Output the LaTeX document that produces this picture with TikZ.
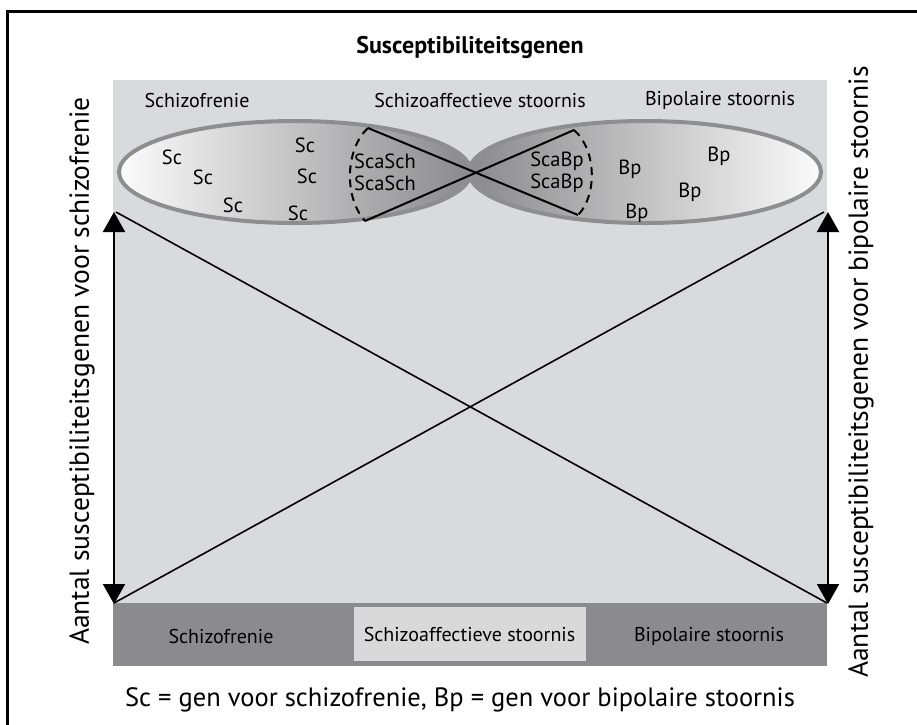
\documentclass[tikz,border=0pt]{standalone}
\usepackage{fontspec}
\setmainfont{PT Sans}
\usetikzlibrary{shapes.geometric,arrows.meta}
\definecolor{bglight}{HTML}{D9DADC}
\definecolor{bardark}{HTML}{8B8B8D}
\definecolor{boxlight}{HTML}{D9D9DA}
\definecolor{ellline}{HTML}{8E8E90}
\definecolor{ellend}{HTML}{8A8A8C}
\definecolor{ellstart}{HTML}{FBFBFB}
\tikzset{
  lbl/.style={inner sep=0pt, font=\fontsize{20}{24}\selectfont},
  gene/.style={inner sep=0pt, font=\fontsize{20.5}{24}\selectfont},
  side/.style={inner sep=0pt, rotate=90, font=\fontsize{27.5}{32}\selectfont},
  ellbox/.style={ellipse, draw=ellline, line width=4pt, minimum width=352pt, minimum height=102pt, inner sep=0pt},
  xline/.style={line width=1.6pt},
  crossline/.style={line width=2pt},
  dashcurve/.style={line width=2pt, dash pattern=on 8pt off 6pt},
  dblarrow/.style={line width=2pt, {Triangle[width=22pt,length=20pt]}-{Triangle[width=22pt,length=20pt]}}
}
\begin{document}
\begin{tikzpicture}[x=1pt,y=-1pt]
\useasboundingbox (0,0) rectangle (917,724);
\clip (0,0) rectangle (917,724);
\fill[white] (0,0) rectangle (917,724);
% frame
\draw[line width=3pt] (7,11) rectangle (940,760);
% backgrounds
\fill[bglight] (113,80) rectangle (827,603);
\fill[bardark] (113,603) rectangle (827,666);
\node[fill=boxlight, minimum width=232pt, minimum height=54pt, inner sep=0pt] (midbox) at (469.5,634) {};
% title
\node[inner sep=0pt, font=\fontsize{24}{28}\selectfont\bfseries] (title) at (470,47) {Susceptibiliteitsgenen};
% top labels
\node[lbl] (tschiz) at (197,100) {Schizofrenie};
\node[lbl] (tsca) at (480,100) {Schizoaffectieve stoornis};
\node[lbl] (tbip) at (720,100) {Bipolaire stoornis};
% ellipses
\node[ellbox, left color=ellstart, right color=ellend] (ellL) at (295,172) {};
\node[ellbox, left color=ellend, right color=ellstart] (ellR) at (645,172) {};
% crossing lines and dashed arcs
\coordinate (lt) at (368,128);
\coordinate (lb) at (365,221);
\coordinate (rt) at (574,130);
\coordinate (rb) at (578,215);
\draw[crossline] (lt) -- (rb);
\draw[crossline] (lb) -- (rt);
\draw[dashcurve] (lt) .. controls (346,148) and (343,196) .. (lb);
\draw[dashcurve] (rt) .. controls (597,150) and (597,196) .. (rb);
% genes
\node[gene] (sc1) at (172,157) {Sc};
\node[gene] (sc2) at (203,177) {Sc};
\node[gene] (sc3) at (233,205) {Sc};
\node[gene] (sc4) at (305,145) {Sc};
\node[gene] (sc5) at (307,176) {Sc};
\node[gene] (sc6) at (298,213) {Sc};
\node[gene] (sca1) at (385,161) {ScaSch};
\node[gene] (sca2) at (385,183) {ScaSch};
\node[gene] (scb1) at (557,161) {ScaBp};
\node[gene] (scb2) at (557,183) {ScaBp};
\node[gene] (bp1) at (630,169) {Bp};
\node[gene] (bp2) at (719,156) {Bp};
\node[gene] (bp3) at (690,192) {Bp};
\node[gene] (bp4) at (637,213) {Bp};
% big X and arrows
\coordinate (xtl) at (116,212);
\coordinate (xtr) at (824,212);
\coordinate (xbl) at (114,603);
\coordinate (xbr) at (827,603);
\coordinate (atl) at (114,212);
\coordinate (abl) at (114,604);
\coordinate (atr) at (828,212);
\coordinate (abr) at (828,604);
\draw[xline] (xtl) -- (xbr);
\draw[xline] (xbl) -- (xtr);
\draw[dblarrow] (atl) -- (abl);
\draw[dblarrow] (atr) -- (abr);
% side labels
\node[side] (sideL) at (82,371) {Aantal susceptibiliteitsgenen voor schizofrenie};
\node[side] (sideR) at (861,372) {Aantal susceptibiliteitsgenen voor bipolaire stoornis};
% bottom labels
\node[lbl] (bschiz) at (221,636) {Schizofrenie};
\node[lbl] (bsca) at (midbox) {Schizoaffectieve stoornis};
\node[lbl] (bbip) at (709,636) {Bipolaire stoornis};
% caption
\node[inner sep=0pt, font=\fontsize{26.5}{31}\selectfont] (caption) at (460,700) {Sc = gen voor schizofrenie, Bp = gen voor bipolaire stoornis};
\end{tikzpicture}
\end{document}
